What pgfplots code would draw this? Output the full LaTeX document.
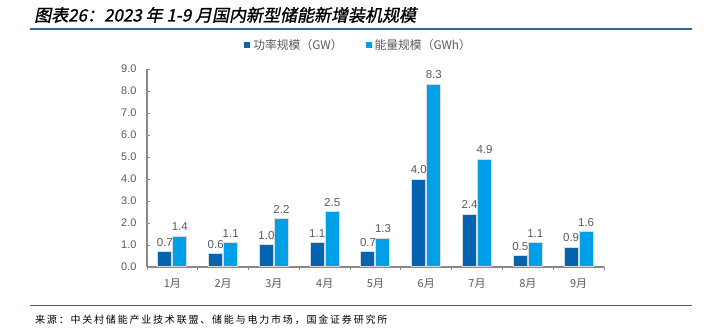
\documentclass[border=0pt]{standalone}
\usepackage{pgfplots}
\pgfplotsset{compat=1.18}
\usepackage{fontspec}
\setmainfont{Liberation Sans}
\newfontfamily\cjk{Noto Sans CJK SC}
\newfontfamily\titlefont[FakeSlant=0.2,FakeBold=1.2]{Noto Sans CJK SC}
\newfontfamily\srcfont[LetterSpace=18]{Noto Sans CJK SC}
\definecolor{darkbar}{RGB}{5,99,176}
\definecolor{lightbar}{RGB}{0,160,233}
\definecolor{txtgray}{RGB}{89,89,89}
\definecolor{axgray}{RGB}{137,137,137}
\definecolor{rule}{RGB}{46,106,150}
\definecolor{bordergray}{RGB}{215,220,225}
\begin{document}
\begin{tikzpicture}[x=1pt,y=1pt]
\path[use as bounding box] (0,0) rectangle (716,329);
\draw[rule, line width=1.6pt] (30,300) -- (692,300);
\draw[rule, line width=1.3pt] (30,23.5) -- (692,23.5);
\node[anchor=west, inner sep=0pt, font=\fontsize{17}{19}\titlefont] at (34,314) {图表26：2023 年 1-9 月国内新型储能新增装机规模};
\node[anchor=west, inner sep=0pt, font=\fontsize{10}{12}\srcfont] at (35,9) {来源：中关村储能产业技术联盟、储能与电力市场，国金证券研究所};
\begin{axis}[
  at={(147pt,62pt)}, anchor=south west,
  scale only axis, width=457pt, height=198pt,
  xmin=-0.5, xmax=8.5, ymin=0, ymax=9,
  /pgf/number format/assume math mode=true,
  axis lines*=left,
  axis line style={axgray, line width=1.3pt},
  xtick={0,...,8},
  xticklabels={1月,2月,3月,4月,5月,6月,7月,8月,9月},
  minor xtick={-0.5,0.5,...,8.5},
  major x tick style={draw=none},
  minor x tick style={axgray, line width=0.8pt},
  minor tick length=3pt,
  ytick={0,1,...,9},
  major y tick style={axgray, line width=0.8pt},
  major tick length=3pt,
  tick align=inside,
  yticklabel={\pgfmathprintnumber[fixed,fixed zerofill,precision=1,assume math mode=true]{\tick}},
  yticklabel style={xshift=-7pt},
  xticklabel style={yshift=-5pt, font=\fontsize{11}{12}\cjk},
  tick label style={text=txtgray, font=\fontsize{11}{12}\selectfont},
  ybar=1pt, bar width=14pt,
  nodes near coords={\pgfmathprintnumber[fixed,fixed zerofill,precision=1,assume math mode=true]{\pgfplotspointmeta}},
  nodes near coords style={text=txtgray, font=\fontsize{11.5}{12}\selectfont, yshift=1.5pt},
  legend style={at={(0.462,1.12)}, anchor=center, draw=none, fill=none,
    legend columns=2, font=\fontsize{11.8}{13}\cjk, text=txtgray,
    /tikz/every even column/.append style={column sep=20pt}},
  legend image code/.code={\fill[#1,draw=white] (0pt,-3.5pt) rectangle (7pt,3.5pt);},
]
\addplot[fill=darkbar, draw=bordergray, line width=1pt] coordinates {(0,0.7) (1,0.6) (2,1.0) (3,1.1) (4,0.7) (5,4.0) (6,2.4) (7,0.5) (8,0.9)};
\addplot[fill=lightbar, draw=bordergray, line width=1pt] coordinates {(0,1.4) (1,1.1) (2,2.2) (3,2.5) (4,1.3) (5,8.3) (6,4.9) (7,1.1) (8,1.6)};
\legend{功率规模（GW）,能量规模（GWh）}
\end{axis}
\end{tikzpicture}
\end{document}
